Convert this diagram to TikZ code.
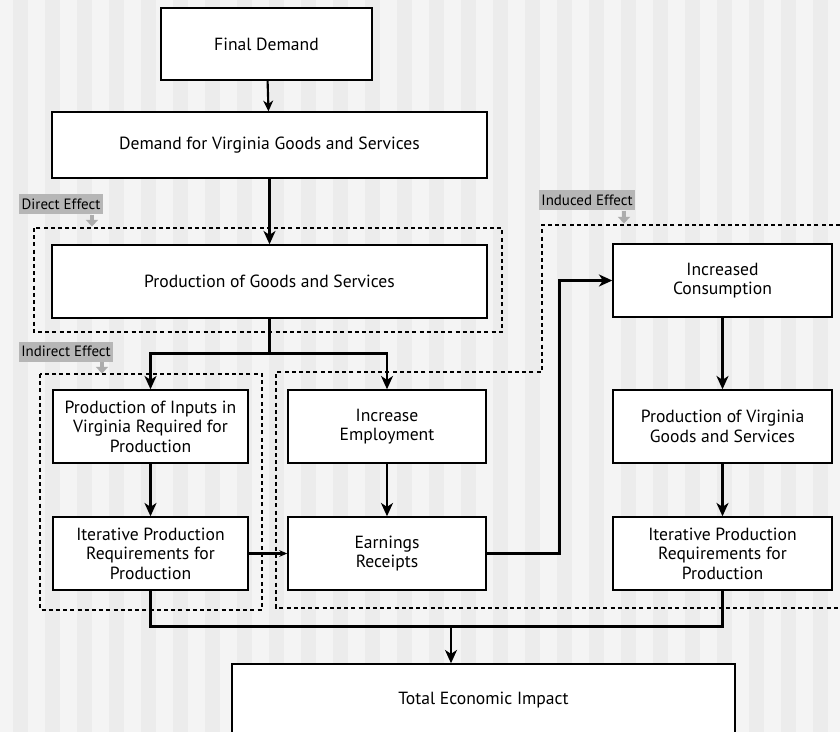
\documentclass[tikz,border=0pt]{standalone}
\usepackage{fontspec}
\setmainfont{PT Sans}
\usetikzlibrary{arrows.meta}

\tikzset{every picture/.style={line width=0.75pt}}
\tikzset{
	box/.style={draw, line width=1.1pt, fill=white, align=center, inner sep=0.75pt, font=\fontsize{13.2}{14.7}\selectfont},
	flow/.style={line width=2.2pt, -{Stealth[length=10pt,width=9pt,inset=3pt]}},
	plain/.style={line width=2.2pt},
	tag/.style={fill={rgb, 255:red, 182; green, 182; blue, 182 }, inner xsep=2pt, inner ysep=0pt, minimum height=15pt, font=\fontsize{11.2}{12}\selectfont},
	tagarrow/.style={draw={rgb, 255:red, 172; green, 172; blue, 172 }, line width=3pt, -{Triangle[length=5pt,width=9pt]}},
	region/.style={dash pattern={on 3pt off 2.4pt}, line width=0.8pt},
}

\begin{document}
\begin{tikzpicture}[x=0.75pt,y=0.75pt,yscale=-1,xscale=1]
	%set diagram size 840 x 732
	\clip (0,0) rectangle (840,732);
	
	%Background stripes
	\fill [fill={rgb, 255:red, 244; green, 244; blue, 244 }] (0,0) rectangle (840,732);
	\foreach \i in {0,...,26}
		\fill [fill={rgb, 255:red, 236; green, 236; blue, 236 }] (13+32*\i,0) rectangle ++(15,732);
	
	%Dashed regions
	\draw [region] (34,228) rectangle (502,332);
	\draw [region] (40,374) rectangle (262,610);
	\draw [region] (840,225) -- (542,225) -- (542,372) -- (276,372) -- (276,608) -- (840,608);
	
	%Boxes
	\node [box, minimum width=158.25pt, minimum height=54pt] (fd) at (266.5,44) {Final Demand};
	\node [box, minimum width=326.25pt, minimum height=49.5pt] (dvg) at (269.5,145) {Demand for Virginia Goods and Services};
	\node [box, minimum width=326.25pt, minimum height=54.75pt] (pgs) at (269.5,281.5) {Production of Goods and Services};
	\node [box, minimum width=146.25pt, minimum height=54.75pt] (pin) at (150.5,426.5) {Production of Inputs in\\Virginia Required for\\Production};
	\node [box, minimum width=146.25pt, minimum height=54.75pt] (itl) at (150.5,553.5) {Iterative Production\\Requirements for\\Production};
	\node [box, minimum width=148.5pt, minimum height=54.75pt] (emp) at (387,426.5) {Increase\\Employment};
	\node [box, minimum width=148.5pt, minimum height=54.75pt] (ear) at (387,553.5) {Earnings\\Receipts};
	\node [box, minimum width=164.25pt, minimum height=54.75pt] (con) at (722.5,280.5) {Increased\\Consumption};
	\node [box, minimum width=164.25pt, minimum height=54.75pt] (pvg) at (722.5,426.5) {Production of Virginia\\Goods and Services};
	\node [box, minimum width=164.25pt, minimum height=54.75pt] (itr) at (722.5,553.5) {Iterative Production\\Requirements for\\Production};
	\node [box, minimum width=377.25pt, minimum height=75pt] (tot) at (483.5,714) {};
	\node [font=\fontsize{13.2}{14.7}\selectfont] (totlab) at (483.5,700) {Total Economic Impact};
	
	%Effect tags
	\node [tag] (dirtag) at (61,204) {Direct Effect};
	\node [tag] (indtag) at (66,351.5) {Indirect Effect};
	\node [tag] (inutag) at (587,200) {Induced Effect};
	\draw [tagarrow] ([xshift=23.25pt]dirtag.south) -- ++(0,12);
	\draw [tagarrow] ([xshift=27pt]indtag.south) -- ++(0,11.5);
	\draw [tagarrow] ([xshift=27.75pt]inutag.south) -- ++(0,13);
	
	%Connectors
	\draw [flow, line width=1.6pt, -{Stealth[length=8pt,width=7.5pt,inset=2.5pt]}] (fd) -- (dvg);
	\draw [flow] (dvg) -- (pgs);
	\draw [plain] (pgs.south) -- ++(0,35) coordinate (split);
	\draw [flow] (split) -| (pin.north);
	\draw [flow] (split) -| (emp.north);
	\draw [flow] (pin) -- (itl);
	\draw [flow] (emp) -- (ear);
	\draw [flow] (con) -- (pvg);
	\draw [flow] (pvg) -- (itr);
	\draw [flow, line width=1.8pt, -{Stealth[length=6pt,width=5pt,inset=2pt]}] (itl) -- (ear);
	\draw [flow] (ear.east) -- ++(73,0) |- (con.west);
	\draw [plain] (itl.south) -- ++(0,36) -| (itr.south);
	\coordinate (join) at (451,626);
	\draw [flow] (join) -- (join |- tot.north);
	
\end{tikzpicture}
\end{document}
